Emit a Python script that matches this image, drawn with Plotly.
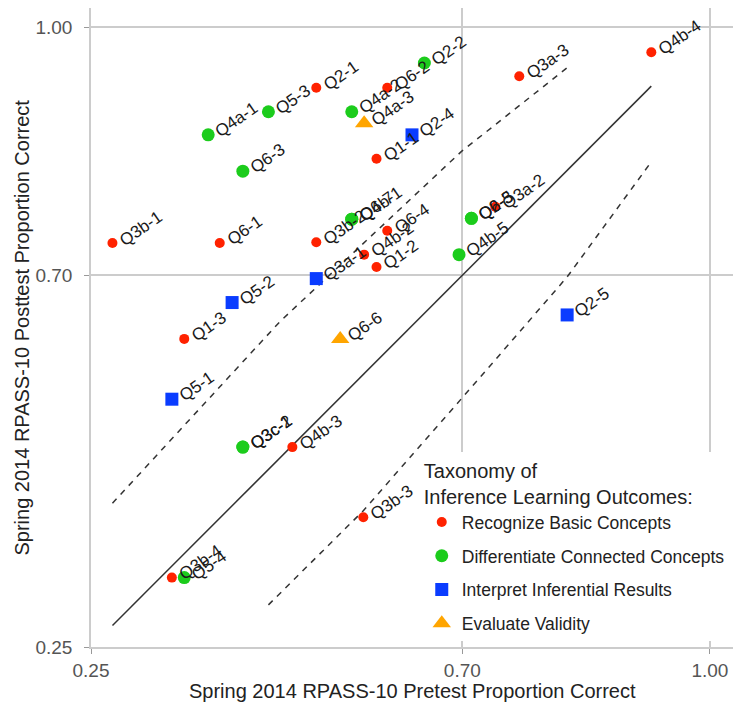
import plotly.graph_objects as go

# Item-level proportion correct, Spring 2014 RPASS-10 (pretest vs posttest),
# grouped by inference learning outcome.
rec_items = ["Q2-1", "Q6-2", "Q3a-3", "Q4b-4", "Q1-1", "Q3b-1", "Q6-1", "Q1-3",
             "Q3b-2", "Q1-2", "Q4b-2", "Q6-4", "Q3a-2", "Q4b-3", "Q3b-3", "Q3b-4"]
rec_pre = [0.523, 0.609, 0.769, 0.929, 0.596, 0.276, 0.406, 0.363,
           0.523, 0.596, 0.581, 0.609, 0.740, 0.494, 0.580, 0.348]
rec_post = [0.927, 0.927, 0.941, 0.970, 0.841, 0.739, 0.739, 0.623,
            0.740, 0.710, 0.725, 0.754, 0.783, 0.492, 0.407, 0.334]

dif_items = ["Q2-2", "Q4a-2", "Q4a-1", "Q5-3", "Q6-3", "Q4b-1", "Q6-7",
             "Q2-3", "Q6-5", "Q4b-5", "Q3c-1", "Q3c-2", "Q5-4"]
dif_pre = [0.654, 0.566, 0.392, 0.465, 0.434, 0.566, 0.566,
           0.711, 0.711, 0.696, 0.434, 0.434, 0.363]
dif_post = [0.957, 0.898, 0.870, 0.898, 0.826, 0.768, 0.768,
            0.769, 0.769, 0.725, 0.492, 0.492, 0.334]

int_items = ["Q2-4", "Q3a-1", "Q5-2", "Q5-1", "Q2-5"]
int_pre = [0.639, 0.523, 0.421, 0.348, 0.827]
int_post = [0.870, 0.696, 0.667, 0.550, 0.652]

val_items = ["Q4a-3", "Q6-6"]
val_pre = [0.581, 0.552]
val_post = [0.884, 0.623]

# Reference band around the no-change line
upper_x = [0.276, 0.479, 0.699, 0.828]
upper_y = [0.424, 0.644, 0.850, 0.952]
lower_x = [0.465, 0.580, 0.722, 0.827, 0.928]
lower_y = [0.301, 0.415, 0.577, 0.698, 0.836]

tick_vals = [0.25, 0.70, 1.00]
tick_text = ["0.25", "0.70", "1.00"]

FONT = "Liberation Sans, Arial, sans-serif"

groups = [
    ("Recognize Basic Concepts", rec_items, rec_pre, rec_post, "#FF2200", "circle", 10),
    ("Differentiate Connected Concepts", dif_items, dif_pre, dif_post, "#1CCC1C", "circle", 13),
    ("Interpret Inferential Results", int_items, int_pre, int_post, "#0A3CFF", "square", 13),
    ("Evaluate Validity", val_items, val_pre, val_post, "#FFA500", "triangle-up", 16),
]

fig = go.Figure()

all_pre = rec_pre + dif_pre + int_pre + val_pre
lo, hi = min(all_pre), max(all_pre)
fig.add_trace(go.Scatter(x=[lo, hi], y=[lo, hi], mode="lines",
                         line=dict(color="#333333", width=1.5),
                         showlegend=False, hoverinfo="skip"))
for xs, ys in ((upper_x, upper_y), (lower_x, lower_y)):
    fig.add_trace(go.Scatter(x=xs, y=ys, mode="lines",
                             line=dict(color="#333333", width=1.5, dash="6px,6px"),
                             showlegend=False, hoverinfo="skip"))

annotations = []
for i, (name, items, pre, post, color, symbol, size) in enumerate(groups):
    fig.add_trace(go.Scatter(
        x=pre, y=post, mode="markers", name=name, legendgroup=f"g{i}",
        marker=dict(color=color, symbol=symbol, size=size, line=dict(width=0)),
        text=items,
    ))
    for it, px, py in zip(items, pre, post):
        annotations.append(dict(
            x=px, y=py, xref="x", yref="y", text=it, showarrow=False,
            textangle=-35, xanchor="left", yanchor="bottom",
            xshift=1, yshift=-9,
            font=dict(family=FONT, size=17, color="#1a1a1a"),
        ))

annotations.append(dict(
    x=0.5, y=-0.069, xref="paper", yref="paper", showarrow=False,
    text="Spring 2014 RPASS-10 Pretest Proportion Correct",
    xanchor="center", yanchor="middle",
    font=dict(family=FONT, size=20, color="#222222"),
))
annotations.append(dict(
    x=-0.109, y=0.5, xref="paper", yref="paper", showarrow=False,
    text="Spring 2014 RPASS-10 Posttest Proportion Correct", textangle=-90,
    xanchor="center", yanchor="middle",
    font=dict(family=FONT, size=20, color="#222222"),
))

axis_common = dict(
    tickvals=tick_vals, ticktext=tick_text,
    showgrid=True, gridcolor="#cccccc", gridwidth=1.5,
    zeroline=False, showline=True, linecolor="#cccccc", linewidth=1.5,
    ticks="outside", ticklen=5, tickwidth=1, tickcolor="#999999",
    tickfont=dict(family=FONT, size=19, color="#555555"),
)

fig.update_layout(
    width=733, height=708,
    margin=dict(l=91, r=0, t=8, b=61),
    plot_bgcolor="white", paper_bgcolor="white",
    xaxis=dict(range=[0.25, 1.028], ticklabelstandoff=0, **axis_common),
    yaxis=dict(range=[0.25, 1.0236], ticklabelstandoff=8, **axis_common),
    annotations=annotations,
    showlegend=True,
    legend=dict(
        x=0.5152, y=0.305, xanchor="left", yanchor="top",
        bgcolor="white", traceorder="grouped", tracegroupgap=8,
        title=dict(text="Taxonomy of<br>Inference Learning Outcomes:",
                   font=dict(family=FONT, size=20, color="#222222")),
        font=dict(family=FONT, size=17.5, color="#222222"),
    ),
    font=dict(family=FONT),
)

fig.write_html("out.html")
